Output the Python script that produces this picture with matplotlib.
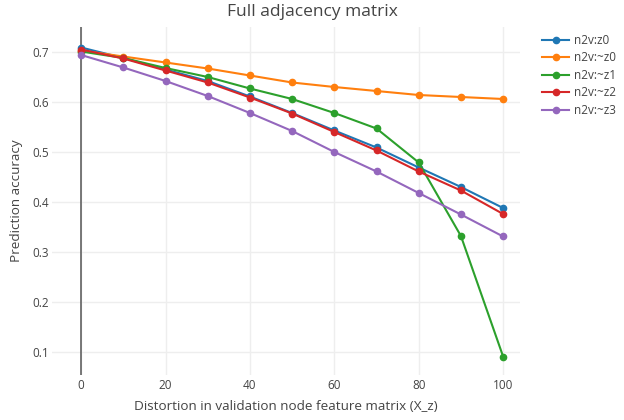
import matplotlib.pyplot as plt

plt.rcParams["font.family"] = ["Open Sans", "DejaVu Sans"]

distortion = [0, 10, 20, 30, 40, 50, 60, 70, 80, 90, 100]

acc_z0 = [0.709, 0.688, 0.665, 0.642, 0.611, 0.578, 0.543, 0.509, 0.469, 0.430, 0.388]
acc_nz0 = [0.703, 0.691, 0.679, 0.667, 0.653, 0.639, 0.630, 0.622, 0.614, 0.610, 0.606]
acc_nz1 = [0.701, 0.688, 0.668, 0.650, 0.627, 0.606, 0.578, 0.547, 0.479, 0.332, 0.091]
acc_nz2 = [0.705, 0.687, 0.663, 0.639, 0.609, 0.577, 0.540, 0.503, 0.461, 0.423, 0.376]
acc_nz3 = [0.694, 0.669, 0.642, 0.612, 0.578, 0.542, 0.500, 0.461, 0.418, 0.375, 0.331]

series_names = ["n2v:z0", "n2v:~z0", "n2v:~z1", "n2v:~z2", "n2v:~z3"]
series_values = [acc_z0, acc_nz0, acc_nz1, acc_nz2, acc_nz3]
colors = ["#1f77b4", "#ff7f0e", "#2ca02c", "#d62728", "#9467bd"]

text_color = "#444444"

fig = plt.figure(figsize=(6.24, 4.2), dpi=100)
ax = fig.add_axes([52 / 624, 1 - 375 / 420, (520 - 52) / 624, (375 - 27) / 420])

for name, vals, col in zip(series_names, series_values, colors):
    ax.plot(distortion, vals, color=col, lw=1.5, marker="o", ms=4.5,
            label=name, zorder=3, clip_on=False)

ax.set_xlim(-6.9, 104.0)
ax.set_ylim(0.054, 0.75)
ax.set_xticks([0, 20, 40, 60, 80, 100])
ax.set_yticks([0.1, 0.2, 0.3, 0.4, 0.5, 0.6, 0.7])

ax.grid(True, color="#eeeeee", lw=1)
ax.set_axisbelow(True)
ax.axvline(0, color="#555555", lw=1.1, zorder=2)
for s in ax.spines.values():
    s.set_visible(False)
ax.tick_params(length=0, colors=text_color, labelsize=8.5)
ax.tick_params(axis="x", pad=3)
ax.tick_params(axis="y", pad=2)

ax.set_xlabel("Distortion in validation node feature matrix (X_z)",
              color=text_color, fontsize=9.7)
ax.set_ylabel("Prediction accuracy", color=text_color, fontsize=9.7)
ax.xaxis.set_label_coords(0.5, (375 - 407) / 348)
ax.yaxis.set_label_coords((17 - 52) / 468, 0.5)
ax.xaxis.label.set_va("center")
ax.yaxis.label.set_va("center")

fig.text(0.5, 1 - 12 / 420, "Full adjacency matrix", ha="center", va="center",
         color=text_color, fontsize=12.5)

fig.legend(loc="upper left", bbox_to_anchor=(542 / 624, 1 - 34 / 420),
           frameon=False, fontsize=8.5, labelcolor=text_color,
           handlelength=2.3, handletextpad=0.4, labelspacing=0.38,
           borderaxespad=0, borderpad=0)

fig.savefig("out.png", dpi=100)
